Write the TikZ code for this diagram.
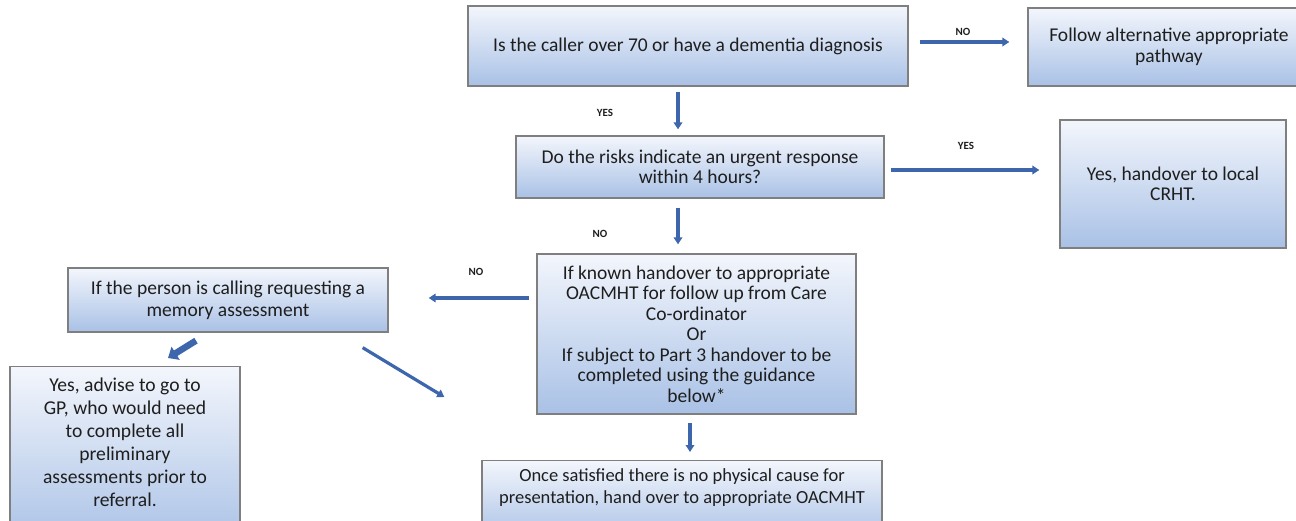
\documentclass[tikz,border=0pt]{standalone}
\usepackage{fontspec}
\setmainfont{Carlito}
\usetikzlibrary{calc,arrows.meta}
\definecolor{boxtop}{HTML}{F3F6FC}
\definecolor{boxbot}{HTML}{A9C1E6}
\definecolor{boxline}{HTML}{7F7F7F}
\definecolor{arrowblue}{HTML}{3D66AC}
\definecolor{ink}{HTML}{1E1E1E}
\tikzset{
  flowbox/.style={draw=boxline, line width=1.3pt, top color=boxtop, bottom color=boxbot,
    inner sep=0pt, align=center, text=ink,
    font=\fontsize{19.5}{20.5}\selectfont},
  plainbox/.style={draw=boxline, line width=1.3pt, top color=boxtop, bottom color=boxbot, inner sep=0pt},
  boxtext/.style={inner sep=0pt, align=center, text=ink},
  arr/.style={draw=arrowblue, line width=3.2pt,
    -{Triangle[length=7pt,width=8.5pt]}},
  fatarr/.style={draw=arrowblue, line width=6.5pt,
    -{Triangle[length=9pt,width=15pt]}},
  tag/.style={inner sep=0pt, text=ink, font=\fontsize{11}{13}\selectfont\bfseries}
}
\begin{document}
\begin{tikzpicture}[x=1pt,y=-1pt]
\useasboundingbox (0,0) rectangle (1296,521);

% decision and action boxes
\node[flowbox, minimum width=440, minimum height=80] (b1) at (688,46)
  {\raisebox{3pt}{Is the caller over 70 or have a dementia diagnosis}};
\node[flowbox, minimum width=282, minimum height=78, font=\fontsize{19.5}{21}\selectfont] (b2) at (1169,47)
  {Follow alternative appropriate\\pathway};
\node[flowbox, minimum width=368, minimum height=62, font=\fontsize{19.5}{19.5}\selectfont] (b3) at (700,167)
  {Do the risks indicate an urgent response\\within 4 hours?};
\node[flowbox, minimum width=226, minimum height=128, font=\fontsize{19.5}{19.5}\selectfont] (b4) at (1173,184)
  {Yes, handover to local\\CRHT.};
\node[flowbox, minimum width=319, minimum height=160] (b5) at (696.5,334)
  {If known handover to appropriate\\OACMHT for follow up from Care\\Co-ordinator\\Or\\If subject to Part 3 handover to be\\completed using the guidance\\below*};
\node[flowbox, minimum width=320, minimum height=64, font=\fontsize{19.5}{22}\selectfont] (b6) at (228,300)
  {If the person is calling requesting a\\memory assessment};

% boxes running off the lower edge
\node[plainbox, anchor=north, minimum width=230, minimum height=180] (b7) at (125,366) {};
\node[boxtext, font=\fontsize{19.6}{23}\selectfont] (b7t) at (125,442)
  {Yes, advise to go to\\GP, who would need\\to complete all\\preliminary\\assessments prior to\\referral.};
\node[plainbox, anchor=north, minimum width=400, minimum height=80] (b8) at (682,460) {};
\node[boxtext, font=\fontsize{18.5}{22}\selectfont] (b8t) at (682,488)
  {Once satisfied there is no physical cause for\\presentation, hand over to appropriate OACMHT};

% connectors
\draw[arr] ($(b1.east)+(11,-4)$) -- ($(b2.west)+(-18,-5)$);
\draw[arr] ($(b1.south)+(-10,5)$) -- ($(b3.north)+(-22,-6)$);
\draw[arr] ($(b3.east)+(6,3)$) -- ($(b4.west)+(-20,-14)$);
\draw[arr] ($(b3.south)+(-22,9)$) -- ($(b5.north)+(-18.5,-9)$);
\draw[arr] ($(b5.west)+(-7,-36)$) -- ($(b6.east)+(40,-2)$);
\draw[fatarr] ($(b6.south)+(-32,8)$) -- ($(b7.north)+(43,-8)$);
\draw[arr] ($(b6.south east)+(-26,15)$) -- ($(b8.north west)+(-37,-63)$);
\draw[arr] ($(b5.south)+(-6.5,8)$) -- ($(b8.north)+(8,-8)$);

% branch labels
\node[tag] (l1) at (963,32) {NO};
\node[tag] (l2) at (605,113) {YES};
\node[tag] (l3) at (966,146) {YES};
\node[tag] (l4) at (600,234) {NO};
\node[tag] (l5) at (476,272) {NO};
\end{tikzpicture}
\end{document}
